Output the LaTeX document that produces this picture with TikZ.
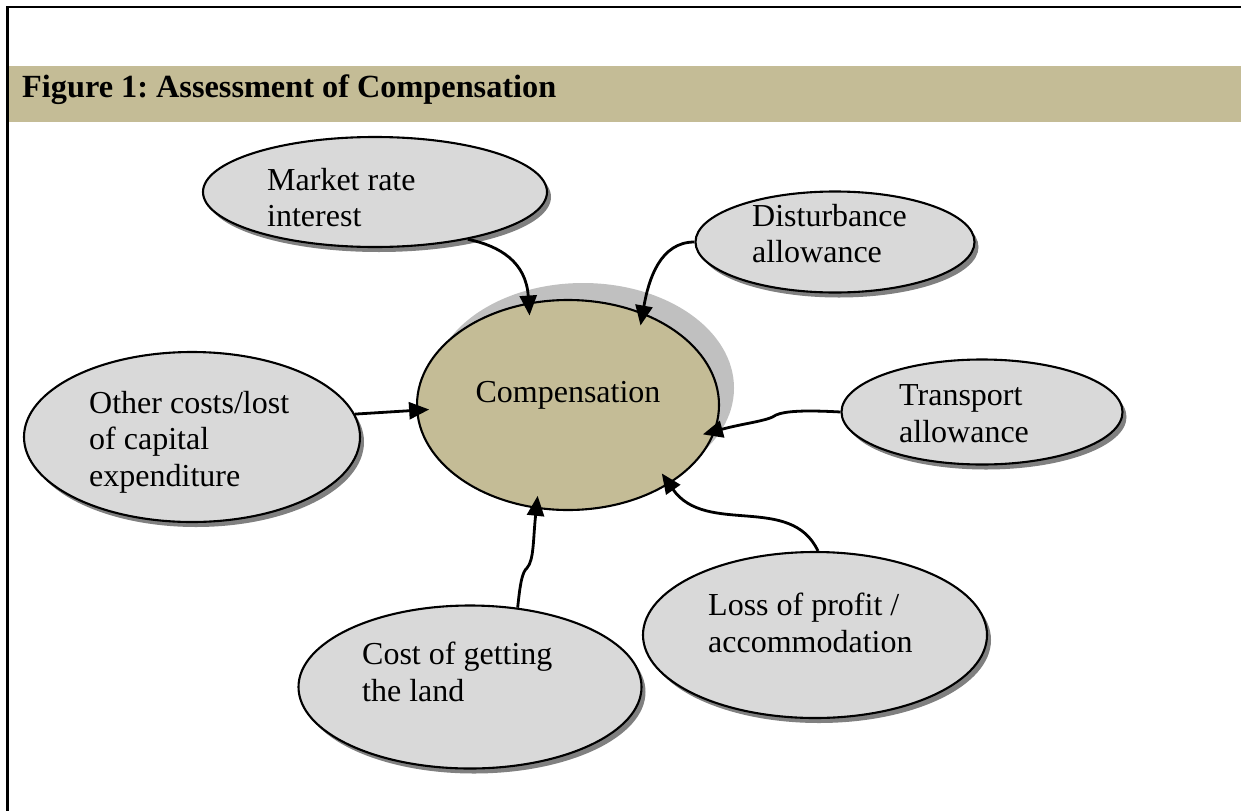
\documentclass[tikz,border=0pt]{standalone}
\usepackage{fontspec}
\setmainfont{Liberation Serif}
\usetikzlibrary{shapes.geometric,shadows,arrows.meta}
\definecolor{khaki}{HTML}{C4BC96}
\definecolor{bubblegray}{HTML}{D9D9D9}
\definecolor{haze}{HTML}{C0C0C0}
\tikzset{
  every node/.style={font=\fontsize{32}{36.5}\selectfont},
  bubble/.style={ellipse, draw, line width=2.1pt, fill=bubblegray, inner sep=0pt,
    drop shadow={shadow xshift=4pt, shadow yshift=-5pt, fill=black!50, opacity=1}},
  bubbletext/.style={anchor=west, align=left, inner sep=0pt},
  feed/.style={-{Triangle[length=20pt,width=17pt]}, line width=2.8pt, shorten >=-13pt},
}
\begin{document}
\frenchspacing
\begin{tikzpicture}[x=1pt,y=-1pt]
  \useasboundingbox (0,0) rectangle (1241,811);
  % frame and heading band
  \draw[line width=2.4pt] (1241,7) -- (7.5,7) -- (7.5,811);
  \fill[khaki] (8.5,66) rectangle (1241,122);
  \node[anchor=base west, inner sep=0pt, font=\fontsize{32.3}{36.5}\selectfont\bfseries] (title) at (22,97) {Figure 1: Assessment of Compensation};

  % centre
  \node[ellipse, draw, line width=2.1pt, fill=khaki, minimum width=302, minimum height=210,
    drop shadow={shadow xshift=15pt, shadow yshift=17pt, fill=haze, opacity=1}] (comp) at (568,405) {};
  \node[inner sep=0pt] (comptext) at (568,395) {Compensation};

  % surrounding factors
  \node[bubble, minimum width=344, minimum height=110] (market) at (375,192) {};
  \node[bubbletext] (markettext) at (267,197.5) {Market rate\\interest};

  \node[bubble, minimum width=279, minimum height=101] (disturb) at (835,242) {};
  \node[bubbletext] (disturbtext) at (752,233.5) {Disturbance\\allowance};

  \node[bubble, minimum width=281, minimum height=105] (transport) at (982,412) {};
  \node[bubbletext] (transporttext) at (899,413.5) {Transport\\allowance};

  \node[bubble, minimum width=336, minimum height=170] (other) at (192,437) {};
  \node[bubbletext] (othertext) at (89,442) {Other costs/lost\\of capital\\expenditure};

  \node[bubble, minimum width=344, minimum height=166] (loss) at (815,635) {};
  \node[bubbletext] (losstext) at (708,623) {Loss of profit /\\accommodation};

  \node[bubble, minimum width=343, minimum height=163] (cost) at (470,687) {};
  \node[bubbletext] (costtext) at (362,672) {Cost of getting\\the land};

  % arrows into the centre
  \draw[feed] (market.-27) .. controls (500,246) and (526,262) .. (comp.111);
  \draw[feed] (disturb.180) to[out=180, in=80] (comp.51);
  \draw[feed] (transport.180) .. controls (805,410) and (785,411) .. (776,415)
    .. controls (768,421) and (745,423) .. (comp.-10);
  \draw[feed] (other.8) -- (comp.-178);
  \draw[feed] (loss.88) to[out=115, in=-55] (comp.-38);
  \draw[feed] (cost.59) .. controls (520,585) and (522,572) .. (527,568)
    .. controls (534,560) and (533,540) .. (comp.-107);
\end{tikzpicture}
\end{document}
